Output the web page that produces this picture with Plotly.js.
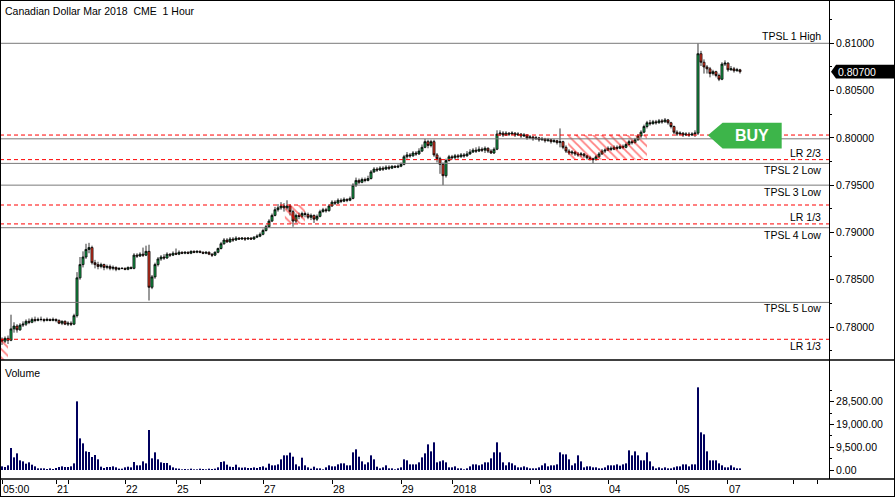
<!DOCTYPE html>
<html><head><meta charset="utf-8">
<script src="https://cdn.plot.ly/plotly-3.0.1.min.js"></script>
<style>
html,body{margin:0;padding:0;background:#fff;}
#chart{width:895px;height:497px;position:absolute;left:0;top:0;}
#frame{position:absolute;left:0;top:0;width:895px;height:497px;box-sizing:border-box;border:1px solid #000;pointer-events:none;}
</style>
</head><body><div id="chart"></div><div id="frame"></div>
<script>
const titleText = 'Canadian Dollar Mar 2018  CME  1 Hour';

const openP = [
.7787,.7785,.7788,.7786,.7798,.7801,.7797,.7802,.7803,.7806,
.7805,.7808,.7807,.7808,.7808,.7807,.7808,.7807,.7808,.7807,
.7804,.7806,.7803,.7804,.7803,.7812,.7852,.7866,.7874,.7882,
.7884,.7868,.7866,.7864,.7866,.7863,.7864,.7862,.7863,.7861,
.7862,.7862,.7861,.7863,.7862,.7876,.7875,.7877,.7876,.7880,
.7842,.7853,.7866,.7872,.7874,.7873,.7877,.7876,.7878,.7877,
.7879,.7878,.7879,.7878,.7880,.7879,.7880,.7879,.7878,.7879,
.7877,.7876,.7879,.7883,.7888,.7892,.7890,.7893,.7892,.7894,
.7893,.7894,.7893,.7894,.7893,.7895,.7896,.7898,.7902,.7906,
.7912,.7918,.7924,.7926,.7928,.7926,.7928,.7922,.7912,.7918,
.7917,.7920,.7919,.7916,.7918,.7914,.7917,.7922,.7924,.7923,
.7928,.7932,.7931,.7934,.7933,.7935,.7934,.7936,.7950,.7955,
.7953,.7956,.7955,.7957,.7964,.7967,.7966,.7968,.7967,.7969,
.7968,.7970,.7969,.7970,.7972,.7980,.7982,.7981,.7984,.7983,
.7986,.7990,.7996,.7992,.7996,.7982,.7978,.7972,.7960,.7976,
.7980,.7979,.7981,.7980,.7982,.7981,.7983,.7985,.7987,.7986,
.7988,.7987,.7989,.7986,.7984,.7988,.8004,.8005,.8003,.8005,
.8004,.8005,.8003,.8004,.8002,.8003,.8000,.8001,.7999,.8000,
.7998,.7999,.7997,.7998,.7996,.7997,.7995,.7996,.7990,.7986,
.7984,.7985,.7983,.7982,.7983,.7981,.7979,.7978,.7977,.7980,
.7983,.7986,.7987,.7989,.7988,.7990,.7989,.7991,.7990,.7993,
.7996,.7995,.7998,.8002,.8006,.8012,.8016,.8015,.8017,.8016,
.8018,.8017,.8019,.8016,.8012,.8006,.8004,.8005,.8003,.8004,
.8003,.8004,.8005,.8089,.8080,.8075,.8073,.8068,.8070,.8066,
.8062,.8078,.8079,.8072,.8073,.8071,.8072];

const highP = [
.7789,.7790,.7791,.7813,.7805,.7803,.7804,.7806,.7808,.7809,
.7810,.7811,.7810,.7811,.7809,.7810,.7809,.7810,.7809,.7808,
.7807,.7807,.7806,.7806,.7814,.7858,.7874,.7880,.7888,.7889,
.7886,.7871,.7869,.7868,.7867,.7866,.7866,.7865,.7864,.7863,
.7863,.7863,.7864,.7864,.7878,.7878,.7879,.7884,.7886,.7887,
.7855,.7868,.7874,.7876,.7877,.7879,.7878,.7880,.7883,.7881,
.7880,.7880,.7880,.7881,.7881,.7881,.7881,.7880,.7880,.7880,
.7878,.7880,.7884,.7890,.7894,.7894,.7895,.7895,.7896,.7895,
.7895,.7895,.7895,.7895,.7896,.7898,.7900,.7904,.7908,.7914,
.7920,.7927,.7930,.7932,.7931,.7934,.7930,.7924,.7920,.7921,
.7922,.7922,.7921,.7920,.7919,.7919,.7924,.7926,.7926,.7930,
.7934,.7934,.7936,.7936,.7937,.7936,.7938,.7952,.7958,.7957,
.7958,.7958,.7960,.7966,.7969,.7969,.7970,.7970,.7971,.7971,
.7971,.7971,.7972,.7974,.7982,.7985,.7984,.7986,.7986,.7989,
.7993,.7999,.7998,.7998,.7998,.7984,.7980,.7974,.7978,.7982,
.7982,.7983,.7983,.7984,.7984,.7986,.7988,.7989,.7990,.7991,
.7990,.7991,.7990,.7988,.7990,.8008,.8008,.8007,.8007,.8006,
.8007,.8006,.8006,.8005,.8005,.8004,.8003,.8002,.8002,.8001,
.8001,.8000,.8000,.7999,.7999,.7998,.8010,.7997,.7992,.7988,
.7987,.7986,.7985,.7985,.7984,.7982,.7981,.7979,.7982,.7985,
.7988,.7989,.7991,.7991,.7992,.7992,.7993,.7993,.7995,.7998,
.7998,.8000,.8004,.8008,.8014,.8018,.8019,.8019,.8019,.8020,
.8020,.8021,.8020,.8017,.8013,.8008,.8007,.8006,.8006,.8006,
.8006,.8008,.8100,.8092,.8083,.8077,.8075,.8072,.8071,.8068,
.8080,.8082,.8080,.8076,.8075,.8074,.8073];

const lowP = [
.7781,.7783,.7782,.7785,.7794,.7794,.7796,.7800,.7801,.7803,
.7804,.7805,.7806,.7806,.7805,.7806,.7806,.7806,.7805,.7803,
.7802,.7802,.7801,.7801,.7802,.7810,.7850,.7863,.7872,.7878,
.7866,.7862,.7861,.7862,.7860,.7861,.7860,.7860,.7859,.7860,
.7861,.7860,.7860,.7861,.7861,.7873,.7874,.7874,.7875,.7828,
.7840,.7851,.7864,.7870,.7871,.7872,.7874,.7875,.7876,.7876,
.7877,.7877,.7877,.7877,.7878,.7878,.7878,.7877,.7877,.7876,
.7874,.7875,.7878,.7882,.7887,.7889,.7889,.7890,.7891,.7892,
.7892,.7891,.7892,.7892,.7892,.7894,.7895,.7897,.7901,.7905,
.7911,.7917,.7922,.7924,.7922,.7924,.7918,.7906,.7910,.7914,
.7915,.7916,.7914,.7913,.7910,.7912,.7916,.7921,.7921,.7922,
.7927,.7929,.7930,.7931,.7932,.7932,.7933,.7935,.7948,.7951,
.7952,.7953,.7954,.7956,.7963,.7964,.7965,.7965,.7966,.7966,
.7967,.7968,.7968,.7969,.7971,.7978,.7979,.7980,.7981,.7982,
.7985,.7989,.7989,.7990,.7980,.7974,.7962,.7950,.7958,.7975,
.7977,.7977,.7978,.7979,.7979,.7980,.7982,.7984,.7984,.7985,
.7985,.7984,.7984,.7983,.7983,.7987,.8002,.8001,.8002,.8002,
.8003,.8001,.8002,.8000,.8001,.7998,.7999,.7997,.7998,.7996,
.7997,.7995,.7996,.7994,.7995,.7993,.7990,.7988,.7984,.7982,
.7982,.7981,.7980,.7980,.7979,.7977,.7976,.7973,.7976,.7979,
.7982,.7984,.7986,.7986,.7987,.7987,.7988,.7988,.7989,.7992,
.7993,.7994,.7997,.8000,.8005,.8010,.8013,.8014,.8014,.8015,
.8015,.8016,.8014,.8010,.8004,.8002,.8003,.8001,.8002,.8001,
.8002,.8001,.8003,.8076,.8068,.8068,.8064,.8066,.8064,.8060,
.8061,.8076,.8070,.8071,.8069,.8070,.8068];

const closeP = [
.7785,.7788,.7786,.7798,.7801,.7797,.7802,.7803,.7806,.7805,
.7808,.7807,.7808,.7808,.7807,.7808,.7807,.7808,.7807,.7804,
.7806,.7803,.7804,.7803,.7812,.7852,.7866,.7874,.7882,.7884,
.7868,.7866,.7864,.7866,.7863,.7864,.7862,.7863,.7861,.7862,
.7862,.7861,.7863,.7862,.7876,.7875,.7877,.7876,.7880,.7842,
.7853,.7866,.7872,.7874,.7873,.7877,.7876,.7878,.7877,.7879,
.7878,.7879,.7878,.7880,.7879,.7880,.7879,.7878,.7879,.7877,
.7876,.7879,.7883,.7888,.7892,.7890,.7893,.7892,.7894,.7893,
.7894,.7893,.7894,.7893,.7895,.7896,.7898,.7902,.7906,.7912,
.7918,.7924,.7926,.7928,.7926,.7928,.7922,.7912,.7918,.7917,
.7920,.7919,.7916,.7918,.7914,.7917,.7922,.7924,.7923,.7928,
.7932,.7931,.7934,.7933,.7935,.7934,.7936,.7950,.7955,.7953,
.7956,.7955,.7957,.7964,.7967,.7966,.7968,.7967,.7969,.7968,
.7970,.7969,.7970,.7972,.7980,.7982,.7981,.7984,.7983,.7986,
.7990,.7996,.7992,.7996,.7982,.7978,.7972,.7960,.7976,.7980,
.7979,.7981,.7980,.7982,.7981,.7983,.7985,.7987,.7986,.7988,
.7987,.7989,.7986,.7984,.7988,.8004,.8005,.8003,.8005,.8004,
.8005,.8003,.8004,.8002,.8003,.8000,.8001,.7999,.8000,.7998,
.7999,.7997,.7998,.7996,.7997,.7995,.7996,.7990,.7986,.7984,
.7985,.7983,.7982,.7983,.7981,.7979,.7978,.7977,.7980,.7983,
.7986,.7987,.7989,.7988,.7990,.7989,.7991,.7990,.7993,.7996,
.7995,.7998,.8002,.8006,.8012,.8016,.8015,.8017,.8016,.8018,
.8017,.8019,.8016,.8012,.8006,.8004,.8005,.8003,.8004,.8003,
.8004,.8005,.8089,.8080,.8075,.8073,.8068,.8070,.8066,.8062,
.8078,.8079,.8072,.8073,.8071,.8072,.8070];

const volume = [
1530,1250,1950,9170,5280,6950,4030,3610,2640,3200,
2220,1530,700,700,700,420,700,420,830,1250,
1530,1250,1250,1530,2780,28630,13200,11120,7780,7510,
5420,6260,4450,1390,830,1250,1250,1530,1110,560,
560,1110,1390,1110,3340,1950,1950,3610,2780,16680,
4870,7370,4450,3200,2920,2920,1950,1110,700,560,
280,420,280,560,280,280,560,420,280,560,
420,560,1110,3340,3610,2220,1390,1250,2220,1110,
970,1110,830,830,1110,830,1250,1530,970,2640,
1950,1950,2360,4450,6120,6120,7230,5560,2360,1530,
5140,1950,1110,560,1390,700,700,280,1110,1950,
1530,1530,2360,2780,2780,1950,1950,7370,8620,5560,
3610,2360,3200,6120,4450,1390,700,1110,1950,700,
700,280,700,1110,4450,4030,2360,2360,2360,3200,
5280,6950,10700,7780,11540,3200,3610,4030,3200,1110,
1110,1530,700,700,280,700,1530,2360,2360,1950,
2360,3200,3200,4870,7370,11540,7370,3200,1950,3200,
2780,1950,1110,1110,1530,1110,700,700,700,1110,
1950,2780,1530,1950,1950,2360,7370,6530,6530,4450,
1950,2780,6120,3610,1110,1530,1530,1110,1110,700,
700,1110,1950,1950,1950,2360,1810,2360,2780,8200,
6120,7780,6120,4030,4030,7370,3610,1530,700,1110,
700,1110,700,700,1110,1530,1530,2360,2360,1530,
2360,2360,34470,15710,14870,7780,4030,4030,4030,2780,
1950,1110,1110,1950,1110,700,700];

// bar index of each time tick, and its label ('' = unlabelled tick)
const tickIdx    = [0, 18, 22, 41, 58, 66, 87, 110, 133, 150, 176, 179, 202, 225, 242, 264, 272];
const tickLabels = ['05:00','21','','22','25','','27','28','29','2018','','03','04','05','07','',''];

// horizontal levels
const levelPrices = [0.8100, 0.8003, 0.7999, 0.7977, 0.7973, 0.7950, 0.7929, 0.7909, 0.7905, 0.7826, 0.7787];
const levelKinds  = ['tpsl','lr','tpsl','lr','tpsl','tpsl','lr','lr','tpsl','tpsl','lr'];
const levelLabels = ['TPSL 1 High','','','LR 2/3','TPSL 2 Low','TPSL 3 Low','','LR 1/3','TPSL 4 Low','TPSL 5 Low','LR 1/3'];
const labelShift  = [7,0,0,7,-7,-7,0,7,-7,-6,-7];

// hatched zones (bar index range, price range)
const zoneX0 = [-0.7, 94.3, 188.7];
const zoneX1 = [2.0, 101.0, 215.0];
const zoneLo = [0.7760, 0.7909, 0.7977];
const zoneHi = [0.7787, 0.7929, 0.8003];

const volTicks = [0, 9500, 19000, 28500];
const lastPrice = 0.8070;
const buyIdx = 235.3, buyPrice = 0.80029;

const FONT = 'Liberation Sans, Arial, sans-serif';
const n = closeP.length;
const xs = Array.from({length: n}, (_, i) => i);

const traces = [];
for (let z = 0; z < zoneX0.length; z++) {
  traces.push({
    type: 'scatter', mode: 'lines', xaxis: 'x', yaxis: 'y2',
    x: [zoneX0[z], zoneX1[z], zoneX1[z], zoneX0[z], zoneX0[z]],
    y: [zoneLo[z], zoneLo[z], zoneHi[z], zoneHi[z], zoneLo[z]],
    fill: 'toself', fillcolor: 'rgba(0,0,0,0)',
    fillpattern: {shape: '\\', fgcolor: '#ff0000', bgcolor: 'rgba(0,0,0,0)', size: 6, solidity: 0.3, fillmode: 'overlay'},
    line: {width: 0, color: 'rgba(0,0,0,0)'}, hoverinfo: 'skip', showlegend: false
  });
}
traces.push({
  type: 'candlestick', x: xs, open: openP, high: highP, low: lowP, close: closeP,
  xaxis: 'x', yaxis: 'y2', whiskerwidth: 0,
  increasing: {line: {color: '#000', width: 0.8}, fillcolor: '#19a64f'},
  decreasing: {line: {color: '#000', width: 0.8}, fillcolor: '#f03a26'},
  hoverinfo: 'skip', showlegend: false
});
traces.push({
  type: 'bar', x: xs, y: volume, xaxis: 'x', yaxis: 'y',
  marker: {color: '#00005e', line: {width: 0}}, hoverinfo: 'skip', showlegend: false
});

const W = 829, H = 479; // plot area size in px
const shapes = [];
levelPrices.forEach((p, k) => {
  shapes.push({
    type: 'line', xref: 'paper', yref: 'y2', x0: 0, x1: 1, y0: p, y1: p,
    line: levelKinds[k] === 'lr' ? {color: '#ff0000', width: 1, dash: '4px,3px'} : {color: '#7a7a7a', width: 1}
  });
});
// panel separators
shapes.push({type: 'line', xref: 'paper', yref: 'paper', x0: 0, x1: 895 / W, y0: 1 - 360 / H, y1: 1 - 360 / H, line: {color: '#000', width: 1.5}});
shapes.push({type: 'line', xref: 'paper', yref: 'paper', x0: 0, x1: 895 / W, y0: 0, y1: 0, line: {color: '#000', width: 1.5}});
// BUY arrow
shapes.push({
  type: 'path', xref: 'x', yref: 'y2', fillcolor: '#3db54a', line: {width: 0},
  path: `M ${buyIdx},${buyPrice} L ${buyIdx + 4.9},0.80159 L ${buyIdx + 24.6},0.80159 L ${buyIdx + 24.6},0.79888 L ${buyIdx + 4.9},0.79888 Z`
});
// last price tag
const tagHalf = 0.00072;
shapes.push({
  type: 'path', xref: 'paper', yref: 'y2', fillcolor: '#000', line: {width: 0},
  path: `M ${831 / W},${lastPrice} L ${836 / W},${lastPrice + tagHalf} L ${894 / W},${lastPrice + tagHalf} L ${894 / W},${lastPrice - tagHalf} L ${836 / W},${lastPrice - tagHalf} Z`
});

const annotations = [];
annotations.push({xref: 'paper', yref: 'paper', x: 0, y: 1, xanchor: 'left', yanchor: 'middle', xshift: 3, yshift: -11,
  text: titleText, showarrow: false, font: {family: FONT, size: 10.5, color: '#000'}});
annotations.push({xref: 'paper', yref: 'paper', x: 0, y: 1 - 373 / H, xanchor: 'left', yanchor: 'middle', xshift: 3,
  text: 'Volume', showarrow: false, font: {family: FONT, size: 10.5, color: '#000'}});
levelLabels.forEach((t, k) => {
  if (!t) return;
  annotations.push({xref: 'paper', yref: 'y2', x: 823 / W, y: levelPrices[k], xanchor: 'right', yanchor: 'middle',
    yshift: labelShift[k], text: t, showarrow: false, font: {family: FONT, size: 10.5, color: '#000'}});
});
tickIdx.forEach((t, k) => {
  if (!tickLabels[k]) return;
  annotations.push({xref: 'x', yref: 'paper', x: t, y: 1 - 489 / H, xanchor: 'left', yanchor: 'middle', xshift: -1,
    text: tickLabels[k], showarrow: false, font: {family: FONT, size: 10.5, color: '#000'}});
});
annotations.push({xref: 'x', yref: 'y2', x: buyIdx + 14.8, y: buyPrice, xanchor: 'center', yanchor: 'middle',
  text: '<b>BUY</b>', showarrow: false, font: {family: FONT, size: 16, color: '#ffffff'}});
annotations.push({xref: 'paper', yref: 'y2', x: 836 / W, y: lastPrice, xanchor: 'left', yanchor: 'middle',
  text: lastPrice.toFixed(5), showarrow: false, font: {family: FONT, size: 10.5, color: '#ffffff'}});

const layout = {
  width: 895, height: 497,
  margin: {l: 0, r: 66, t: 0, b: 18, pad: 0},
  paper_bgcolor: '#fff', plot_bgcolor: '#fff',
  showlegend: false, bargap: 0.33, boxgap: 0.02,
  font: {family: FONT, size: 10.5, color: '#000'},
  xaxis: {
    domain: [0, 1], anchor: 'y', range: [-0.67, 275.67], type: 'linear',
    tickmode: 'array', tickvals: tickIdx, ticktext: tickIdx.map(() => ''),
    ticks: 'outside', ticklen: 4, tickcolor: '#000', tickwidth: 1,
    showgrid: false, zeroline: false, showline: false,
    rangeslider: {visible: false}, fixedrange: true
  },
  yaxis: {
    domain: [0, 1 - 360 / H], anchor: 'x', side: 'right', range: [-3750, 45870],
    tickmode: 'array', tickvals: volTicks,
    ticktext: volTicks.map(v => v.toLocaleString('en-US', {minimumFractionDigits: 2, maximumFractionDigits: 2})),
    ticks: 'outside', ticklen: 4, tickcolor: '#000',
    minor: {tickvals: [4750, 14250, 23750, 33250], ticks: 'outside', ticklen: 2, tickcolor: '#000', showgrid: false},
    showline: true, linecolor: '#000', linewidth: 1, showgrid: false, zeroline: false,
    tickfont: {family: FONT, size: 10.5, color: '#000'}, fixedrange: true
  },
  yaxis2: {
    domain: [1 - 360 / H, 1], anchor: 'x', side: 'right', range: [0.77651, 0.81458],
    tickmode: 'linear', tick0: 0.78, dtick: 0.005, tickformat: '.5f',
    ticks: 'outside', ticklen: 4, tickcolor: '#000',
    minor: {dtick: 0.0025, ticks: 'outside', ticklen: 2, tickcolor: '#000', showgrid: false},
    showline: true, linecolor: '#000', linewidth: 1, showgrid: false, zeroline: false,
    tickfont: {family: FONT, size: 10.5, color: '#000'}, fixedrange: true
  },
  shapes: shapes,
  annotations: annotations
};

Plotly.newPlot('chart', traces, layout, {staticPlot: true, displayModeBar: false});
</script>
</body></html>
